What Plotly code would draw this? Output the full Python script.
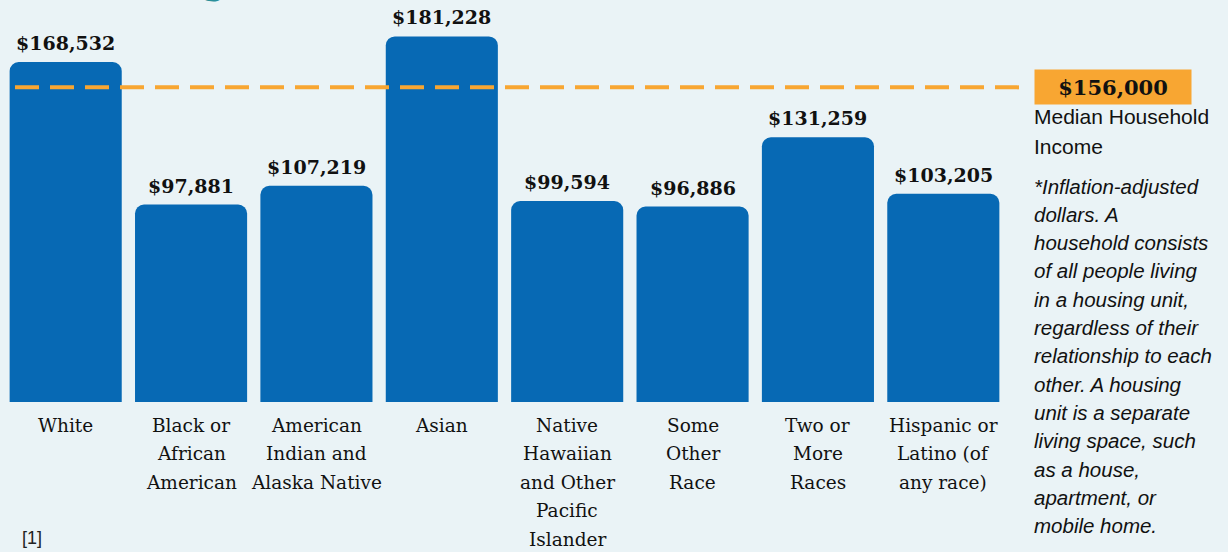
import plotly.graph_objects as go

categories = ["White", "Black or<br>African<br>American", "American<br>Indian and<br>Alaska Native",
              "Asian", "Native<br>Hawaiian<br>and Other<br>Pacific<br>Islander", "Some<br>Other<br>Race",
              "Two or<br>More<br>Races", "Hispanic or<br>Latino (of<br>any race)"]
values = [168532, 97881, 107219, 181228, 99594, 96886, 131259, 103205]
value_labels = ["$168,532", "$97,881", "$107,219", "$181,228", "$99,594", "$96,886", "$131,259", "$103,205"]
median_value = 156000
median_label = "$156,000"
median_caption = ["Median Household", "Income"]
note_lines = ["*Inflation-adjusted", "dollars. A", "household consists", "of all people living",
              "in a housing unit,", "regardless of their", "relationship to each", "other. A housing",
              "unit is a separate", "living space, such", "as a house,", "apartment, or", "mobile home."]

W, H = 1228, 552
ML, MR, MT, MB = 3, 222, 0, 150
PW = W - ML - MR
PH = H - MT - MB
BG = "#eaf3f6"
BAR = "#0769b4"
ORANGE = "#f8a632"
SERIF = "DejaVu Serif"
SANS = "Liberation Sans"


def px_x(px):
    return (px - ML) / PW


def px_y(py):
    return (H - MB - py) / PH


fig = go.Figure()
fig.add_trace(go.Bar(
    x=categories, y=values, marker=dict(color=BAR, cornerradius=9, line=dict(width=0)),
    hoverinfo="skip",
))

ann = []
for c, v, lab in zip(categories, values, value_labels):
    ann.append(dict(x=c, y=v, xref="x", yref="y", text="<b>%s</b>" % lab, showarrow=False,
                    yanchor="bottom", yshift=6, font=dict(family=SERIF, size=19, color="#111111")))
    for j, line in enumerate(c.split("<br>")):
        ann.append(dict(x=c, y=0, xref="x", yref="y", text=line, showarrow=False,
                        yanchor="middle", yshift=-(23 + 28.5 * j),
                        font=dict(family=SERIF, size=18.5, color="#111111")))

# median box
ann.append(dict(x=px_x(1034), y=median_value, xref="paper", yref="y", xanchor="left", yanchor="middle",
                text="<b>%s</b>" % median_label, showarrow=False, bgcolor=ORANGE, width=154, height=32,
                borderpad=1, align="center", font=dict(family=SERIF, size=21, color="#111111")))
for j, line in enumerate(median_caption):
    ann.append(dict(x=px_x(1032), y=px_y(117 + 29 * j), xref="paper", yref="paper", xanchor="left",
                    yanchor="middle", text=line, showarrow=False,
                    font=dict(family=SANS, size=21, color="#111111")))
for j, line in enumerate(note_lines):
    ann.append(dict(x=px_x(1032), y=px_y(186 + 28.3 * j), xref="paper", yref="paper", xanchor="left",
                    yanchor="middle", text="<i>%s</i>" % line, showarrow=False,
                    font=dict(family=SANS, size=20.5, color="#111111")))
ann.append(dict(x=px_x(20), y=px_y(538), xref="paper", yref="paper", xanchor="left", yanchor="middle",
                text="[1]", showarrow=False, font=dict(family=SANS, size=18, color="#222222")))
# cut-off title descender
ann.append(dict(x=px_x(214), y=px_y(-22), xref="paper", yref="paper", xanchor="center", yanchor="middle",
                text="g", showarrow=False, font=dict(family=SERIF, size=42, color="#2a8f9a")))

fig.update_layout(
    width=W, height=H, margin=dict(l=ML, r=MR, t=MT, b=MB, pad=0),
    paper_bgcolor=BG, plot_bgcolor=BG, showlegend=False, bargap=0.106,
    xaxis=dict(visible=False),
    yaxis=dict(visible=False, range=[0, PH / 0.002017]),
    annotations=ann,
    shapes=[dict(type="line", xref="paper", yref="y", x0=px_x(15), x1=px_x(1022), y0=median_value,
                 y1=median_value, line=dict(color=ORANGE, width=4, dash="24px,11px"), layer="above")],
)
fig.write_html("out.html", config={"displayModeBar": False},
               post_script="document.body.style.margin='0';document.body.style.overflow='hidden';")
